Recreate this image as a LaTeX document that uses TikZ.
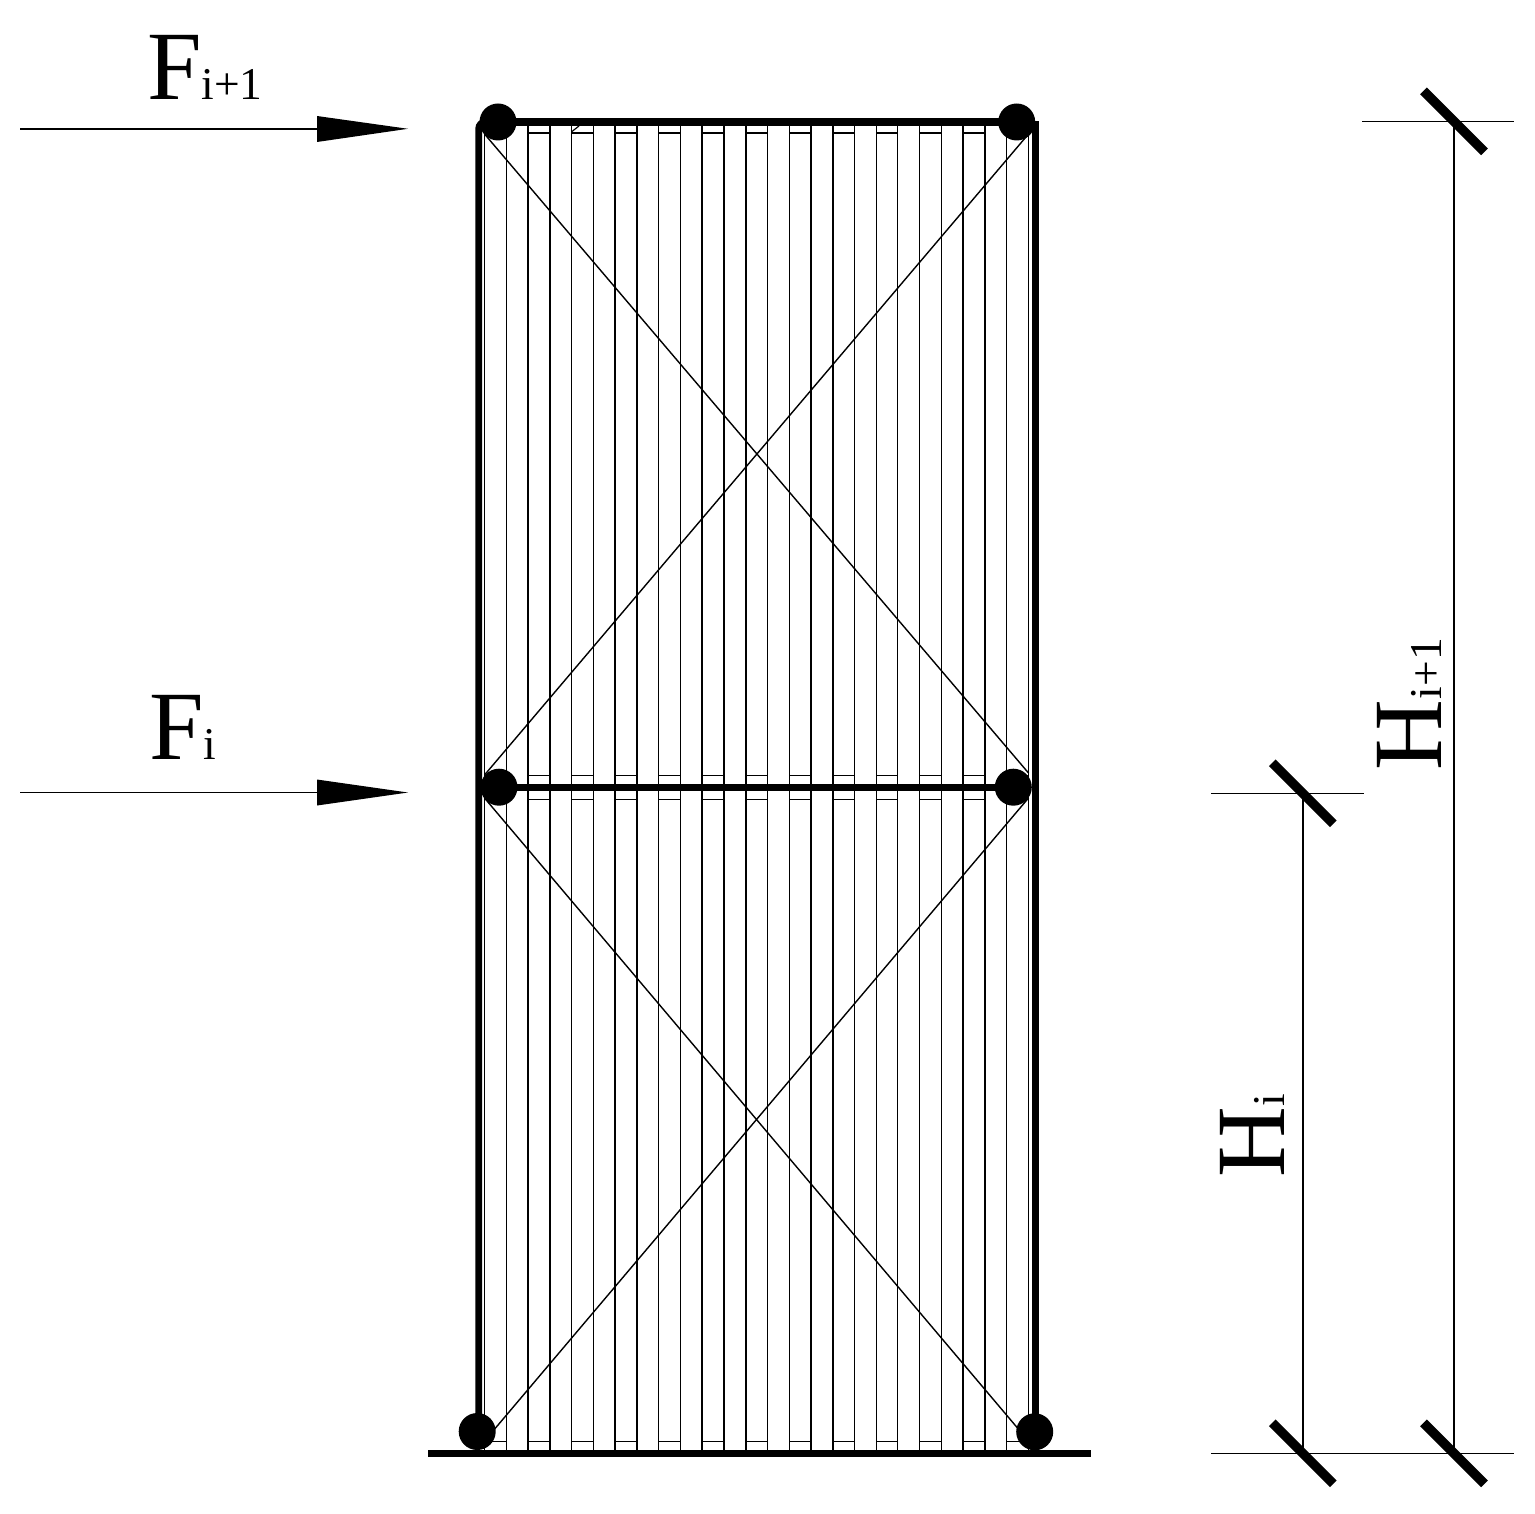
\documentclass[tikz,border=0pt]{standalone}
\usepackage{fontspec}
\setmainfont{Liberation Serif}
\tikzset{
  pin/.style={circle,fill=black,draw=none,minimum size=37pt,inner sep=0pt},
  chord/.style={line width=7.2pt,black},
  thinstud/.style={line width=1.15pt,black},
  thickstud/.style={line width=2pt,black},
  brace/.style={line width=1.2pt,black},
  diag/.style={line width=1.4pt,black},
  dimline/.style={line width=1.4pt,black},
  slash/.style={line width=9.5pt,black},
  label/.style={inner sep=0pt,outer sep=0pt,anchor=base west,text=black},
  arrowhead/.style={fill=black,draw=none}
}
\newcommand{\bigF}{\fontsize{98}{98}\selectfont}
\newcommand{\smallsub}{\fontsize{45.5}{45.5}\selectfont}
\begin{document}
\begin{tikzpicture}[x=1pt,y=-1pt]
\useasboundingbox (0,0) rectangle (1535,1514);
\fill[white] (0,0) rectangle (1535,1514);
% studs
\foreach \k in {0,1,4,5,8,9,13,14,17,18,19,20,21,24,25}{
  \pgfmathsetmacro{\xx}{floor(484.5+21.75*\k)+0.5}
  \draw[thinstud] (\xx,121) -- (\xx,1453);
}
\foreach \k in {2,3,6,7,10,11,12,15,16,22,23}{
  \pgfmathsetmacro{\xx}{round(484.5+21.75*\k)}
  \draw[thickstud] (\xx,121) -- (\xx,1453);
}
% short braces between studs
\foreach \k in {0,2,...,24}{
  \pgfmathsetmacro{\xa}{484.5+21.75*\k}
  \pgfmathsetmacro{\xb}{484.5+21.75*(\k+1)}
  \draw[line width=2pt] (\xa,133.5) -- (\xb,133.5);
  \draw[brace] (\xa,775.5) -- (\xb,775.5);
  \draw[brace] (\xa,799.5) -- (\xb,799.5);
  \draw[brace] (\xa,1441.5) -- (\xb,1441.5);
}
\draw[brace] (571.7,131.7) -- (579,126);
% diagonal end points
\coordinate (d1a) at (484.5,134);
\coordinate (d1b) at (1028.5,773);
\coordinate (d2a) at (484.5,775);
\coordinate (d2b) at (1028.5,134);
\coordinate (d3a) at (484.5,798);
\coordinate (d3b) at (1028.5,1441);
\coordinate (d4a) at (484.5,1441);
\coordinate (d4b) at (1028.5,798);
\draw[diag] (d1a) -- (d1b);
\draw[diag] (d2a) -- (d2b);
\draw[diag] (d3a) -- (d3b);
\draw[diag] (d4a) -- (d4b);
% pins
\node[pin] (tl) at (498,122) {};
\node[pin] (tr) at (1016.7,122) {};
\node[pin] (ml) at (499,787.2) {};
\node[pin] (mr) at (1013.3,787.2) {};
\node[pin] (bl) at (477.2,1431.5) {};
\node[pin] (br) at (1034.7,1431.8) {};
% frame
\coordinate (lb) at (478.7,1431);
\coordinate (lt) at (478.7,121.8);
\coordinate (rb) at (1035.6,1431);
\coordinate (rt) at (1035.6,121.5);
\coordinate (g0) at (428,1453.4);
\coordinate (g1) at (1091,1453.4);
\draw[line width=6.8pt,rounded corners=7pt] (lb) -- (lt) -- (tl.center);
\draw[line width=7.4pt] (rb) -- (rt);
\draw[chord] (tl.center) -- (tr.center);
\draw[line width=7pt] (ml.center) -- (mr.center);
\draw[line width=7pt] (g0) -- (g1);
% forces
\coordinate (f1a) at (20,128.8);
\coordinate (f1b) at (318,128.8);
\coordinate (f1t) at (408,128.8);
\coordinate (f2a) at (20,792.5);
\coordinate (f2b) at (318,792.5);
\coordinate (f2t) at (408,792.5);
\draw[line width=1.8pt] (f1a) -- (f1b);
\draw[line width=1.3pt] (f2a) -- (f2b);
\fill[arrowhead] (317,116) -- (f1t) -- (317,142) -- cycle;
\fill[arrowhead] (317,779.5) -- (f2t) -- (317,805.5) -- cycle;
\node[label] (Fa) at (147,100) {\bigF F\smallsub i+1};
\node[label] (Fb) at (149,759) {\bigF F\smallsub i};
% dimensions
\coordinate (h0a) at (1211,1453.3);
\coordinate (h0b) at (1514,1453.3);
\coordinate (h1a) at (1211,793.3);
\coordinate (h1b) at (1364,793.3);
\coordinate (h2a) at (1362,121.3);
\coordinate (h2b) at (1514,121.3);
\coordinate (vi0) at (1302.8,1453.3);
\coordinate (vi1) at (1302.8,793.3);
\coordinate (vj0) at (1454,1453.3);
\coordinate (vj1) at (1454,121.3);
\draw[dimline] (h0a) -- (h0b);
\draw[dimline] (h1a) -- (h1b);
\draw[dimline] (h2a) -- (h2b);
\draw[dimline] (vi0) -- (vi1);
\draw[dimline] (vj0) -- (vj1);
\draw[slash] ([shift={(-30.5,-30.5)}]vi0) -- ([shift={(30.5,30.5)}]vi0);
\draw[slash] ([shift={(-30.5,-30.5)}]vj0) -- ([shift={(30.5,30.5)}]vj0);
\draw[slash] ([shift={(-30.5,-30.5)}]vi1) -- ([shift={(30.5,30.5)}]vi1);
\draw[slash] ([shift={(-30.5,-30.5)}]vj1) -- ([shift={(30.5,30.5)}]vj1);
\node[label,rotate=90] (Ha) at (1441,770) {\bigF H\smallsub i+1};
\node[label,rotate=90] (Hb) at (1284.8,1177) {\bigF H\smallsub i};
\end{tikzpicture}
\end{document}
